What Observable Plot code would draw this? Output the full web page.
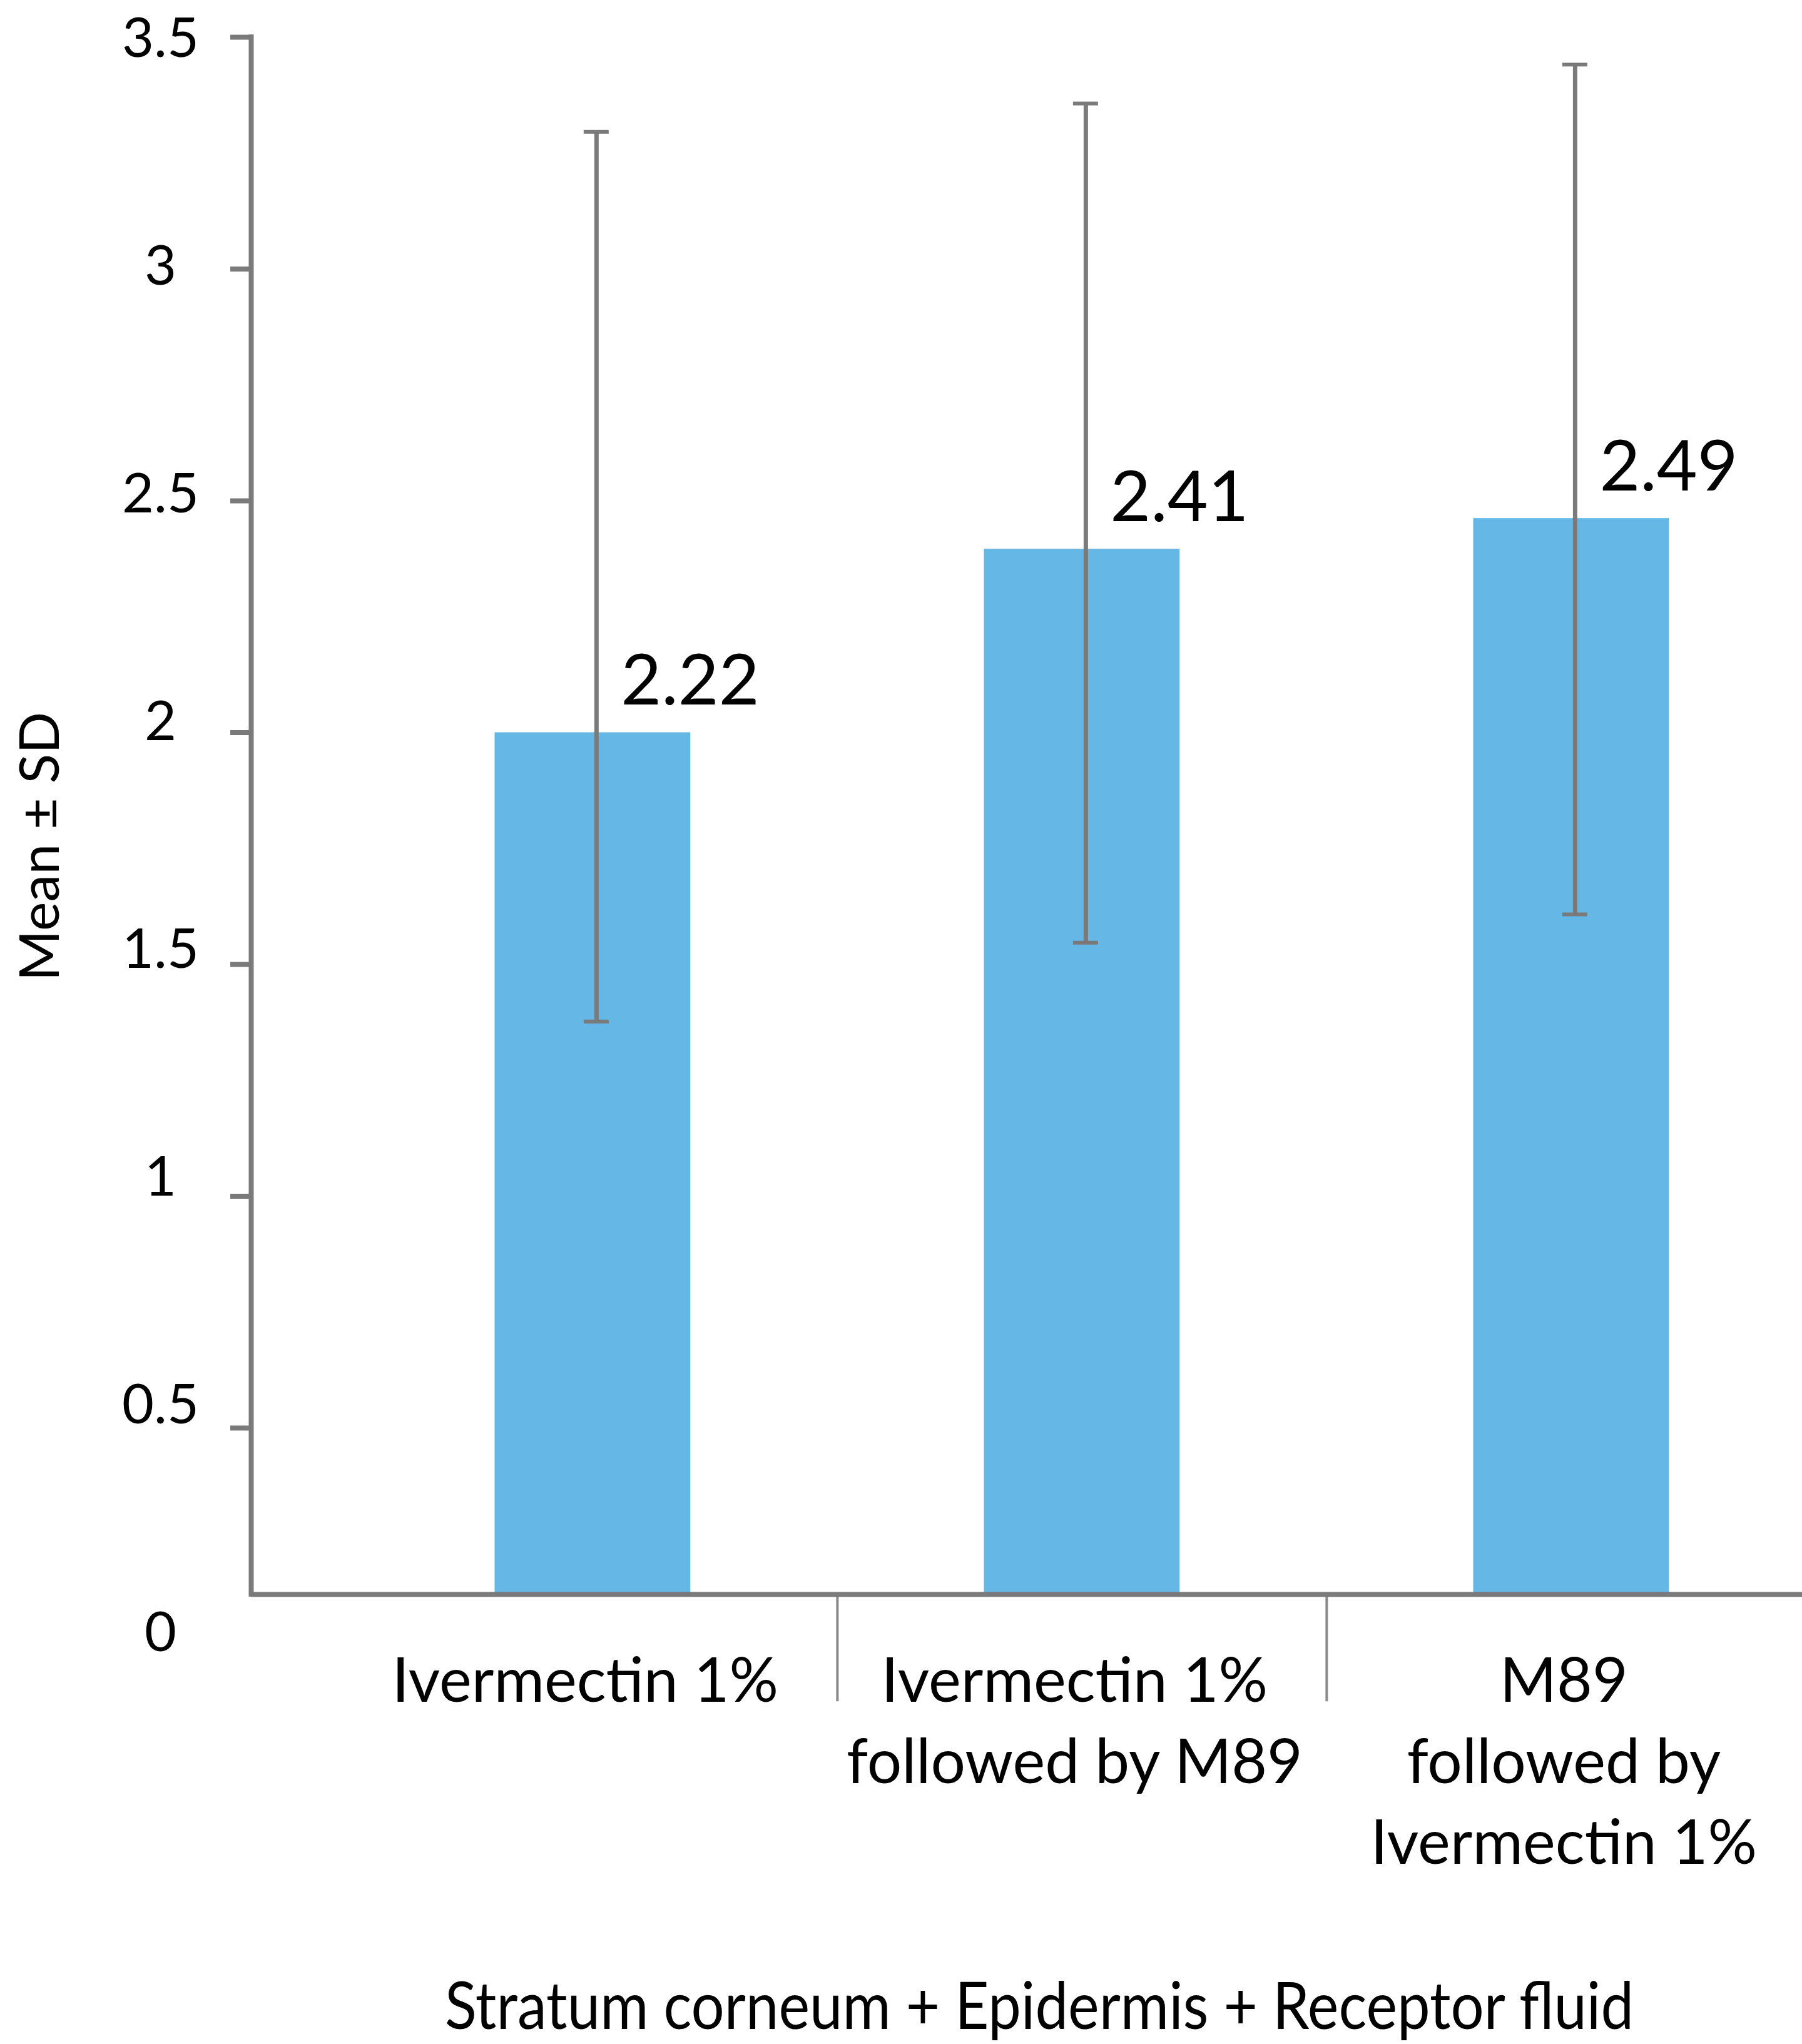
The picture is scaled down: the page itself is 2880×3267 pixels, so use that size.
<!DOCTYPE html>
<html>
<head>
<meta charset="utf-8">
<script src="https://cdn.jsdelivr.net/npm/d3@7"></script>
<script src="https://cdn.jsdelivr.net/npm/@observablehq/plot@0.6"></script>
<style>
  html, body { margin: 0; padding: 0; background: #ffffff; }
  #chart svg { display: block; }
</style>
</head>
<body>
<div id="chart"></div>
<script>
// ---- data ----
const categories = ["Ivermectin 1%", "Ivermectin 1%\nfollowed by M89", "M89\nfollowed by\nIvermectin 1%"];
const positions = [1, 2, 3];
const barHeights = [2.0, 2.396, 2.462];      // bar tops as drawn against the axis
const sdLow = [1.377, 1.547, 1.608];
const sdHigh = [3.296, 3.357, 3.441];
const valueLabels = ["2.22", "2.41", "2.49"];
const yTicks = [0.5, 1, 1.5, 2, 2.5, 3, 3.5];
const yTickLabels = [0, 0.5, 1, 1.5, 2, 2.5, 3, 3.5];
const separators = [1.5, 2.5];
const axisBase = 0.141;       // where the category axis line sits
const sepBottom = -0.09;      // lower end of category separators
const yTitle = "Mean ± SD";
const xTitle = "Stratum corneum + Epidermis + Receptor fluid";

// in the reference the tick labels sit on a slightly compressed scale
const labelOffset = 0.053;
const labelFactor = 0.9825;

const xDomain = [0.302, 3.472];
const gray = "#7a7a7a";
const barColor = "#65b7e5";

const data = categories.map((c, i) => ({
  cat: c, pos: positions[i], mean: barHeights[i], lo: sdLow[i], hi: sdHigh[i], label: valueLabels[i]
}));

const chart = Plot.plot({
  width: 2880,
  height: 3267,
  marginTop: 59,
  marginBottom: 614.5,
  marginLeft: 401,
  marginRight: 0,
  x: {type: "linear", domain: xDomain, axis: null},
  y: {domain: [0, 3.5], axis: null},
  style: {fontFamily: "Lato, 'Open Sans', sans-serif", background: "#ffffff", color: "#000000"},
  marks: [
    Plot.rectY(data, {x1: d => d.pos - 0.2, x2: d => d.pos + 0.2, y1: () => axisBase, y2: "mean", fill: barColor}),
    // category separators
    Plot.ruleX(separators, {x: d => d, y1: () => axisBase, y2: () => sepBottom, stroke: "#8a8a8a", strokeWidth: 4}),
    // x axis line
    Plot.ruleY([axisBase], {y: d => d, stroke: gray, strokeWidth: 8}),
    // y axis line
    Plot.ruleX([xDomain[0]], {x: d => d, y1: () => axisBase, y2: () => 3.5, stroke: gray, strokeWidth: 8, strokeLinecap: "square"}),
    // y ticks
    Plot.ruleY(yTicks, {y: d => d, x1: () => xDomain[0], x2: () => xDomain[0], insetLeft: -33, stroke: gray, strokeWidth: 8}),
    // y tick labels
    Plot.text(yTickLabels, {frameAnchor: "left", y: d => labelOffset + d * labelFactor, text: d => String(d), dx: -145, dy: -3, textAnchor: "middle", fontSize: 88, fill: "#000"}),
    // y title
    Plot.text([yTitle], {frameAnchor: "left", text: d => d, dx: -336, dy: 212, rotate: -90, fontSize: 88, fill: "#000"}),
    // error bars
    Plot.ruleX(data, {x: "pos", y1: "lo", y2: "hi", stroke: gray, strokeWidth: 7, dx: 6}),
    Plot.ruleY(data, {x1: "pos", x2: "pos", y: "lo", insetLeft: -20, insetRight: -20, dx: 6, stroke: gray, strokeWidth: 6}),
    Plot.ruleY(data, {x1: "pos", x2: "pos", y: "hi", insetLeft: -20, insetRight: -20, dx: 6, stroke: gray, strokeWidth: 6}),
    // value labels
    Plot.text(data, {x: "pos", y: "mean", text: "label", textAnchor: "start", lineAnchor: "bottom", dx: 45, dy: -45, fontSize: 112, fill: "#000"}),
    // category labels
    Plot.text(data, {x: "pos", y: () => axisBase, text: "cat", lineAnchor: "top", dy: 80, dx: -12, fontSize: 98, lineHeight: 1.32, fill: "#000"}),
    // x title
    Plot.text([xTitle], {frameAnchor: "bottom", text: d => d, lineAnchor: "bottom", dy: 590, dx: 20, fontSize: 104, fill: "#000"})
  ]
});

document.getElementById("chart").appendChild(chart);

// condense the x title like the reference
chart.querySelectorAll("text").forEach(t => {
  if (t.textContent === xTitle) {
    t.setAttribute("textLength", "1900");
    t.setAttribute("lengthAdjust", "spacingAndGlyphs");
  }
});
</script>
</body>
</html>
